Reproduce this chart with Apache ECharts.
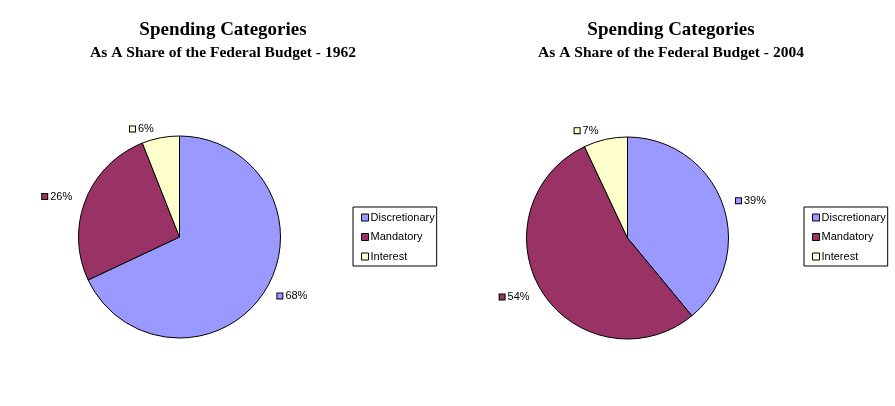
<!DOCTYPE html>
<html>
<head>
<meta charset="utf-8">
<script src="https://cdn.jsdelivr.net/npm/echarts@6/dist/echarts.min.js"></script>
<style>
  html, body { margin: 0; padding: 0; background: #fff; }
  #main { width: 895px; height: 406px; }
</style>
</head>
<body>
<div id="main"></div>
<script>
var categories = ['Discretionary', 'Mandatory', 'Interest'];
var share1962 = [68, 26, 6];
var share2004 = [39, 54, 7];
var years = ['1962', '2004'];
var colors = ['#9999ff', '#993366', '#ffffcc'];

var myChart = echarts.init(document.getElementById('main'));

function makeData(values) {
    return categories.map(function (name, i) {
        return { name: name, value: values[i] };
    });
}

// 标签前面的小方块
var rich = {};
colors.forEach(function (c, i) {
    rich['b' + i] = { width: 5, height: 5, backgroundColor: c, borderColor: '#000', borderWidth: 1 };
});
rich.t = { fontFamily: 'Liberation Sans', fontSize: 11, color: '#000', padding: [0, 0, 0, 3] };

function pieSeries(values, center) {
    return {
        type: 'pie',
        radius: 101,
        center: center,
        startAngle: 90,
        clockwise: true,
        silent: true,
        animation: false,
        avoidLabelOverlap: false,
        itemStyle: { borderColor: '#000', borderWidth: 1 },
        label: {
            show: true,
            position: 'outside',
            formatter: function (p) {
                return '{b' + p.dataIndex + '|}{t|' + p.value + '%}';
            },
            rich: rich
        },
        labelLine: { show: false, length: 9, length2: 0 },
        data: makeData(values)
    };
}

function legend(left) {
    return {
        orient: 'vertical',
        left: left,
        top: 207,
        padding: [4, 2, 3, 8],
        itemGap: 6.5,
        itemWidth: 7,
        itemHeight: 7,
        icon: 'rect',
        selectedMode: false,
        backgroundColor: '#fff',
        borderColor: '#000',
        borderWidth: 1,
        borderRadius: 0,
        itemStyle: { borderColor: '#000', borderWidth: 1 },
        textStyle: { fontFamily: 'Liberation Sans', fontSize: 11, lineHeight: 13, color: '#000', padding: [0, 0, 0, -3] },
        data: categories
    };
}

function title(left, year) {
    return {
        text: 'Spending Categories',
        subtext: 'As A Share of the Federal Budget - ' + year,
        left: left,
        top: 16,
        textAlign: 'center',
        itemGap: 5,
        textStyle: { fontFamily: 'Liberation Serif', fontSize: 19, fontWeight: 'bold', color: '#000' },
        subtextStyle: { fontFamily: 'Liberation Serif', fontSize: 15.5, fontWeight: 'bold', color: '#000' }
    };
}

var option = {
    backgroundColor: '#fff',
    color: colors,
    title: [title(218, years[0]), title(666, years[1])],
    legend: [legend(353), legend(804)],
    series: [
        pieSeries(share1962, [179.5, 237]),
        pieSeries(share2004, [627.5, 238])
    ]
};
myChart.setOption(option);
</script>
</body>
</html>
